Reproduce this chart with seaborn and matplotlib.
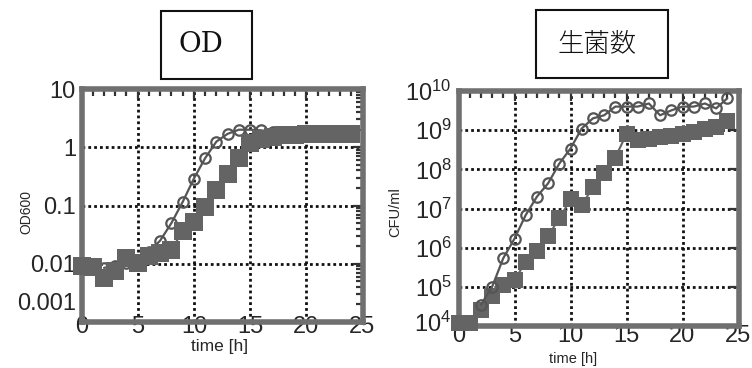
import matplotlib
matplotlib.use("Agg")
import numpy as np
import pandas as pd
import seaborn as sns
import matplotlib.pyplot as plt
from matplotlib.patches import Rectangle
from matplotlib.ticker import FixedLocator, FixedFormatter, LogLocator, MultipleLocator, NullFormatter
from matplotlib.transforms import ScaledTranslation

# ---------------- data ----------------
hours = list(range(0, 25))
circle_hours = list(range(2, 25))

od_square = [0.0092, 0.0088, 0.0058, 0.0076, 0.0125, 0.0105, 0.0135, 0.0150, 0.0175,
             0.036, 0.052, 0.095, 0.185, 0.35, 0.66, 1.18, 1.40, 1.50, 1.60, 1.65,
             1.68, 1.70, 1.70, 1.72, 1.72]
od_circle = [0.0085, 0.0092, 0.0105, 0.0118, 0.016, 0.025, 0.050, 0.115, 0.29, 0.65,
             1.25, 1.70, 2.00, 2.00, 1.95, 1.85, 1.75, 1.72, 1.72, 1.72, 1.72, 1.72, 1.72]

cfu_square = [1.2e4, 1.2e4, 2.5e4, 6.0e4, 1.1e5, 1.5e5, 4.3e5, 8.0e5, 2.0e6, 5.6e6,
              1.7e7, 1.2e7, 3.5e7, 8.0e7, 2.0e8, 8.0e8, 5.5e8, 6.0e8, 6.5e8, 7.0e8,
              8.0e8, 9.0e8, 1.1e9, 1.2e9, 1.7e9]
cfu_circle = [3.5e4, 1.0e5, 5.4e5, 1.7e6, 6.8e6, 2.0e7, 4.4e7, 1.4e8, 3.4e8, 1.1e9,
              2.0e9, 2.4e9, 4.0e9, 4.0e9, 4.0e9, 4.8e9, 2.4e9, 3.2e9, 4.0e9, 4.0e9,
              4.8e9, 3.6e9, 6.5e9]

x_ticks = [0, 5, 10, 15, 20, 25]
x_ticklabels = ["0", "5", "10", "15", "20", "25"]
od_ticks = [0.001, 0.01, 0.1, 1, 10]
od_ticklabels = ["0.001", "0.01", "0.1", "1", "10"]
cfu_ticks = [1e4, 1e5, 1e6, 1e7, 1e8, 1e9, 1e10]
cfu_ticklabels = [r"$10^{4}$", r"$10^{5}$", r"$10^{6}$", r"$10^{7}$", r"$10^{8}$",
                  r"$10^{9}$", r"$10^{10}$"]

title_left = "OD"
title_right = "生菌数"
xlabel = "time [h]"
ylabel_left = "OD600"
ylabel_right = "CFU/ml"

# ---------------- style ----------------
sns.set_theme(style="white")
plt.rcParams["font.family"] = ["Liberation Sans", "DejaVu Sans"]
plt.rcParams["mathtext.fontset"] = "custom"
plt.rcParams["mathtext.rm"] = "Liberation Sans"
plt.rcParams["mathtext.it"] = "Liberation Sans:italic"
plt.rcParams["mathtext.bf"] = "Liberation Sans:bold"

W, H = 752, 368
fig = plt.figure(figsize=(W / 100, H / 100), dpi=100)

def px_axes(x0, y0, x1, y1):
    return fig.add_axes([x0 / W, 1 - y1 / H, (x1 - x0) / W, (y1 - y0) / H])

ax1 = px_axes(81.5, 89, 362.5, 322)
ax2 = px_axes(458.5, 91, 738.5, 326)

SQ_COLOR = "#646464"
CI_COLOR = "#555555"
FRAME = "#707070"

def style_axes(ax, yticks, ylabels, ylim):
    ax.set_yscale("log")
    ax.set_xlim(0, 25)
    ax.set_ylim(*ylim)
    ax.xaxis.set_major_locator(FixedLocator(x_ticks))
    ax.xaxis.set_major_formatter(FixedFormatter(x_ticklabels))
    ax.xaxis.set_minor_locator(MultipleLocator(1))
    ax.yaxis.set_major_locator(FixedLocator(yticks))
    ax.yaxis.set_major_formatter(FixedFormatter(ylabels))
    ax.yaxis.set_minor_locator(LogLocator(base=10, subs=np.arange(2, 10)))
    ax.yaxis.set_minor_formatter(NullFormatter())
    ax.tick_params(which="both", direction="in", top=True, right=True,
                   color="#333333", width=1.6)
    ax.tick_params(which="major", length=7)
    ax.tick_params(which="minor", length=5)
    ax.tick_params(axis="y", which="major", labelsize=17, pad=4)
    ax.grid(True, which="major", color="#111111", linestyle=(0, (1, 1.1)), linewidth=2)
    for s in ax.spines.values():
        s.set_linewidth(4)
        s.set_color(FRAME)
        s.set_visible(True)

# ---------------- left: OD ----------------
style_axes(ax1, od_ticks, od_ticklabels, (0.001, 10))
ax1.tick_params(axis="x", which="major", labelsize=17, pad=-4)
sns.lineplot(x=circle_hours, y=od_circle, ax=ax1, color=CI_COLOR, linewidth=1.6,
             marker="o", markersize=7.5, markerfacecolor="none",
             markeredgecolor=CI_COLOR, markeredgewidth=1.6, errorbar=None,
             clip_on=False, zorder=3)
sns.lineplot(x=hours, y=od_square, ax=ax1, color=SQ_COLOR, linewidth=1.5,
             marker="s", markersize=12.5, markerfacecolor=SQ_COLOR,
             markeredgewidth=0, errorbar=None, clip_on=False, zorder=4)
ax1.set_xlabel(xlabel, fontsize=12.5)
ax1.xaxis.set_label_coords((220 - 81.5) / 281, (322 - 339) / 233)
ax1.set_ylabel(ylabel_left, fontsize=10)
ax1.yaxis.set_label_coords((33 - 81.5) / 281, (322 - 212) / 233)
# lift the lowest tick label like the original
for lbl in ax1.get_yticklabels():
    if lbl.get_text() == "0.001":
        lbl.set_transform(lbl.get_transform() + ScaledTranslation(0, 20 / 100, fig.dpi_scale_trans))

# ---------------- right: CFU ----------------
style_axes(ax2, cfu_ticks, cfu_ticklabels, (1e4, 1e10))
ax2.tick_params(axis="x", which="major", labelsize=17, pad=-1)
ax2.tick_params(axis="y", which="major", pad=5)
sns.lineplot(x=hours, y=cfu_square, ax=ax2, color=SQ_COLOR, linewidth=1.5,
             marker="s", markersize=12, markerfacecolor=SQ_COLOR,
             markeredgewidth=0, errorbar=None, clip_on=False, zorder=3)
sns.lineplot(x=circle_hours, y=cfu_circle, ax=ax2, color=CI_COLOR, linewidth=1.6,
             marker="o", markersize=7.5, markerfacecolor="none",
             markeredgecolor=CI_COLOR, markeredgewidth=1.6, errorbar=None,
             clip_on=False, zorder=4)
ax2.set_xlabel(xlabel, fontsize=10.5)
ax2.xaxis.set_label_coords((573 - 458.5) / 280, (326 - 352) / 235)
ax2.set_ylabel(ylabel_right, fontsize=10.5)
ax2.yaxis.set_label_coords((402 - 458.5) / 280, (326 - 212) / 235)
for lbl in ax2.get_yticklabels():
    if lbl.get_text() == r"$10^{4}$":
        lbl.set_transform(lbl.get_transform() + ScaledTranslation(0, 4 / 100, fig.dpi_scale_trans))

for ax in (ax1, ax2):
    leg = ax.get_legend()
    if leg is not None:
        leg.remove()

# ---------------- title boxes ----------------
def title_box(x0, y0, x1, y1, text, tx, ty, **kw):
    rect = Rectangle((x0 / W, 1 - y1 / H), (x1 - x0) / W, (y1 - y0) / H,
                     transform=fig.transFigure, fill=False, edgecolor="#111111",
                     linewidth=1.5)
    fig.add_artist(rect)
    fig.text(tx / W, 1 - ty / H, text, ha="center", va="center", color="#111111", **kw)

title_box(161, 11, 252, 79, title_left, 201, 45, family=["DejaVu Serif", "Liberation Serif"],
          fontsize=20, fontweight="light")
title_box(536, 10, 668, 78, title_right, 597, 44,
          family=["Noto Sans CJK JP", "DejaVu Sans"], fontsize=19, fontweight="light")

fig.savefig("out.png", dpi=100)
